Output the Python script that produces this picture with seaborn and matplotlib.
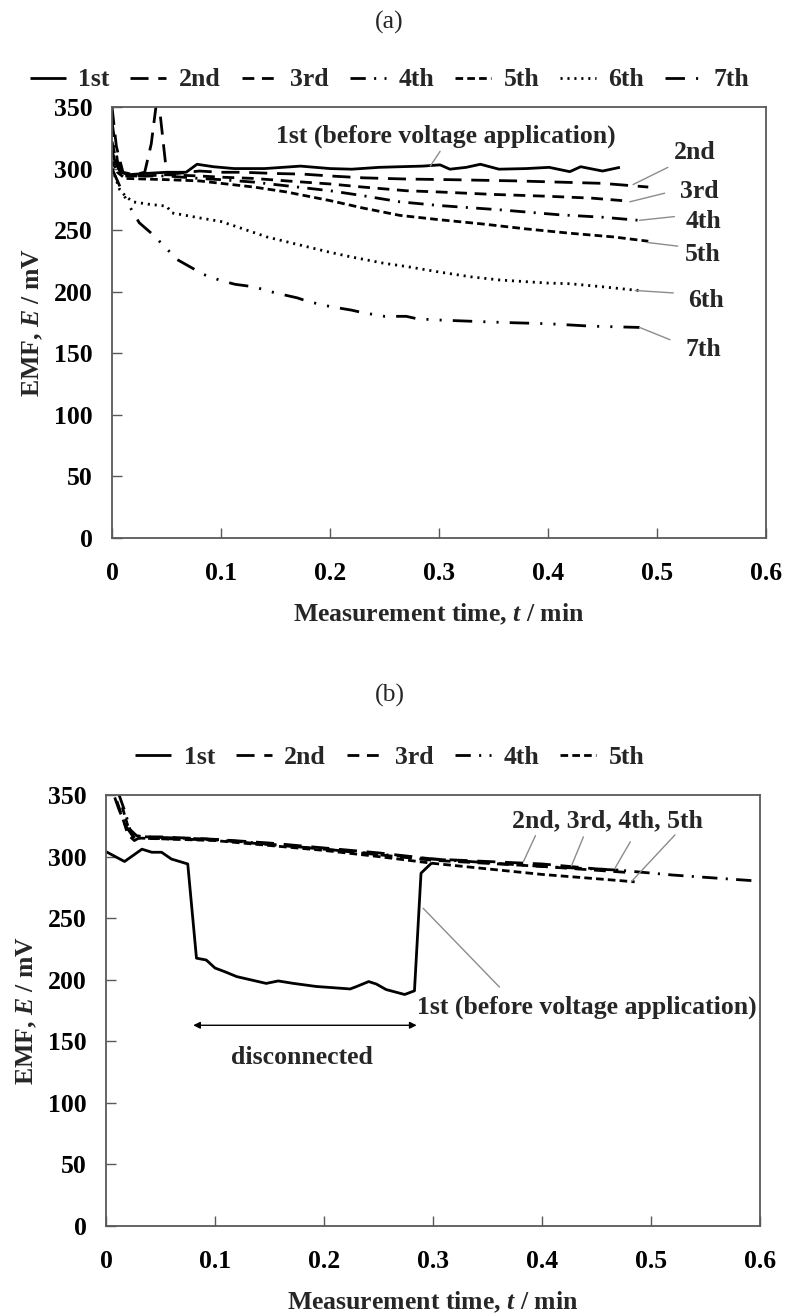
import matplotlib
matplotlib.use("Agg")
import matplotlib.pyplot as plt
import seaborn as sns

# ---------------- data: panel (a) ----------------
a_names = ["1st", "2nd", "3rd", "4th", "5th", "6th", "7th"]

a_t_1st = [0, 0.003, 0.008, 0.015, 0.03, 0.05, 0.068, 0.078, 0.093, 0.112, 0.14, 0.173, 0.2, 0.22,
           0.245, 0.264, 0.285, 0.301, 0.31, 0.325, 0.338, 0.355, 0.38, 0.401, 0.42, 0.43, 0.45, 0.466]
a_E_1st = [315, 305, 297, 295, 296, 297, 297, 303.5, 301.5, 300, 300, 302, 300, 299.5,
           301, 301.5, 302, 303, 299.5, 301, 303.5, 299.5, 300, 301, 297.5, 301.5, 298, 301]

a_t_2nd = [0, 0.004, 0.01, 0.02, 0.03, 0.036, 0.042, 0.05, 0.06, 0.08, 0.1, 0.12, 0.15, 0.175,
           0.2, 0.23, 0.27, 0.31, 0.37, 0.41, 0.45, 0.478, 0.492]
a_E_2nd = [350, 318, 297, 295, 297, 320, 362, 297, 296, 298, 297, 297, 296, 295.5,
           294, 292.5, 291.5, 291, 290, 289, 288, 286, 285]

a_t_3rd = [0, 0.005, 0.01, 0.03, 0.05, 0.08, 0.1, 0.13, 0.16, 0.2, 0.23, 0.27, 0.3, 0.35, 0.4, 0.44, 0.468]
a_E_3rd = [322, 302, 294, 294, 295, 294, 293, 292, 290, 287.5, 285, 282, 281, 279, 277.5, 276, 274]

a_t_4th = [0, 0.005, 0.012, 0.03, 0.05, 0.08, 0.1, 0.13, 0.16, 0.2, 0.23, 0.264, 0.3, 0.356, 0.41, 0.45, 0.483]
a_E_4th = [338, 306, 295, 294, 294, 292, 291, 289, 286, 282, 278, 273, 270, 266.5, 262.5, 260.5, 258]

a_t_5th = [0, 0.005, 0.012, 0.03, 0.05, 0.08, 0.1, 0.13, 0.16, 0.2, 0.23, 0.264, 0.3, 0.34, 0.38, 0.42, 0.46, 0.492]
a_E_5th = [306, 297, 292, 291.5, 291, 290, 288, 285, 281, 274, 268, 262, 258.5, 255, 251, 247.5, 244.5, 241]

a_t_6th = [0, 0.003, 0.007, 0.012, 0.019, 0.034, 0.05, 0.055, 0.08, 0.1, 0.112, 0.142, 0.172, 0.2,
           0.218, 0.25, 0.27, 0.3, 0.33, 0.356, 0.4, 0.42, 0.45, 0.483]
a_E_6th = [300, 293, 283, 278, 273, 271, 269.5, 264, 260, 257, 253.5, 244.5, 238, 232,
           228.5, 223, 220.5, 216, 212, 209.5, 207, 206.5, 204, 201]

a_t_7th = [0, 0.005, 0.01, 0.017, 0.025, 0.038, 0.05, 0.06, 0.072, 0.084, 0.1, 0.113, 0.13, 0.15,
           0.17, 0.18, 0.2, 0.22, 0.23, 0.25, 0.27, 0.28, 0.3, 0.33, 0.36, 0.4, 0.44, 0.484]
a_E_7th = [300, 290, 280, 268, 256, 246, 235, 226, 220, 214, 209, 206, 204, 199,
           195, 192, 188, 185, 183, 180, 180, 178, 177, 176, 175, 174, 172, 171]

# ---------------- data: panel (b) ----------------
b_names = ["1st", "2nd", "3rd", "4th", "5th"]

b_t_1st = [0, 0.017, 0.033, 0.042, 0.051, 0.06, 0.075, 0.083, 0.092, 0.1, 0.109, 0.12, 0.147, 0.158,
           0.172, 0.193, 0.224, 0.23, 0.241, 0.248, 0.257, 0.274, 0.283, 0.289, 0.299]
b_E_1st = [304, 296, 306, 303.5, 303.5, 298, 294, 217.5, 216, 209.5, 206.5, 202.5, 197, 199,
           197, 194.5, 192.5, 194.5, 198.5, 196.5, 192, 188, 191, 286.5, 295]

b_t_2nd = [0.008, 0.012, 0.018, 0.025, 0.03, 0.05, 0.1, 0.15, 0.2, 0.25, 0.3, 0.35, 0.4, 0.45, 0.47]
b_E_2nd = [348, 338, 325, 316, 316, 316, 314, 311, 307, 303, 298, 296, 294, 290, 289]

b_t_3rd = [0.01, 0.015, 0.02, 0.026, 0.03, 0.1, 0.2, 0.3, 0.4, 0.48]
b_E_3rd = [345, 332, 318, 313, 315, 313.5, 306, 297, 292, 287]

b_t_4th = [0.012, 0.018, 0.022, 0.028, 0.035, 0.1, 0.2, 0.3, 0.4, 0.47, 0.52, 0.56, 0.6]
b_E_4th = [350, 335, 322, 317, 316, 314, 306, 298, 292, 289, 285, 282.5, 280]

b_t_5th = [0.015, 0.02, 0.025, 0.03, 0.1, 0.2, 0.25, 0.3, 0.35, 0.4, 0.45, 0.485]
b_E_5th = [340, 325, 317, 315, 313, 305, 300, 294.5, 290, 285.5, 282, 279.5]

x_ticks = [0, 0.1, 0.2, 0.3, 0.4, 0.5, 0.6]
x_ticklabels = ["0", "0.1", "0.2", "0.3", "0.4", "0.5", "0.6"]
y_ticks = [0, 50, 100, 150, 200, 250, 300, 350]
y_ticklabels = ["0", "50", "100", "150", "200", "250", "300", "350"]

# ---------------- style ----------------
sns.set_theme(style="white")
plt.rcParams["font.family"] = ["Liberation Serif", "DejaVu Serif"]
plt.rcParams["font.weight"] = "bold"
plt.rcParams["axes.labelweight"] = "bold"
plt.rcParams["mathtext.fontset"] = "custom"
plt.rcParams["mathtext.rm"] = "Liberation Serif:bold"
plt.rcParams["mathtext.it"] = "Liberation Serif:italic:bold"
plt.rcParams["mathtext.bf"] = "Liberation Serif:bold"
plt.rcParams["lines.scale_dashes"] = False

FS = 18.5
SPINE = "#595959"
LEADER = "#8c8c8c"
styles = {
    "1st": "-",
    "2nd": (0, (13, 7)),
    "3rd": (0, (8.5, 5.5)),
    "4th": (0, (11, 6, 1.5, 6)),
    "5th": (0, (5.5, 3)),
    "6th": (0, (1.5, 3.5)),
    "7th": (0, (14, 8, 1.5, 8, 1.5, 8)),
}

W, H = 787, 1313
fig = plt.figure(figsize=(W / 100, H / 100), dpi=100)
axA = fig.add_axes([112 / W, 1 - 538 / H, 654 / W, 431 / H])
axB = fig.add_axes([106 / W, 1 - 1226 / H, 654 / W, 431 / H])


def draw(ax, names, ts, Es):
    handles = []
    for n, t, e in zip(names, ts, Es):
        sns.lineplot(x=t, y=e, ax=ax, color="black", linewidth=2.0, sort=False,
                     estimator=None, legend=False)
        ln = ax.lines[-1]
        ln.set_linestyle(styles[n])
        ln.set_label(n)
        ln.set_solid_capstyle("butt")
        ln.set_dash_capstyle("butt")
        handles.append(ln)
    return handles


def style_axes(ax):
    ax.set_xlim(0, 0.6)
    ax.set_ylim(0, 350)
    ax.set_xticks(x_ticks)
    ax.set_xticklabels(x_ticklabels)
    ax.set_yticks(y_ticks)
    ax.set_yticklabels(y_ticklabels)
    ax.tick_params(axis="both", direction="in", length=7, width=1.0, color=SPINE,
                   labelsize=FS, labelcolor="black", bottom=True, left=True)
    ax.tick_params(axis="x", pad=17)
    ax.tick_params(axis="y", pad=14)
    for lab in ax.get_xticklabels() + ax.get_yticklabels():
        lab.set_fontweight("bold")
    for sp in ax.spines.values():
        sp.set_visible(True)
        sp.set_color(SPINE)
        sp.set_linewidth(1.3)
    ax.set_xlabel(r"Measurement time, $t$ / min", fontsize=FS, fontweight="bold", labelpad=12)
    ax.set_ylabel(r"EMF, $E$ / mV", fontsize=FS, fontweight="bold", labelpad=6)
    ax.grid(False)


hA = draw(axA, a_names,
          [a_t_1st, a_t_2nd, a_t_3rd, a_t_4th, a_t_5th, a_t_6th, a_t_7th],
          [a_E_1st, a_E_2nd, a_E_3rd, a_E_4th, a_E_5th, a_E_6th, a_E_7th])
hB = draw(axB, b_names,
          [b_t_1st, b_t_2nd, b_t_3rd, b_t_4th, b_t_5th],
          [b_E_1st, b_E_2nd, b_E_3rd, b_E_4th, b_E_5th])
style_axes(axA)
style_axes(axB)


def leader(ax, p_from, p_to):
    ax.annotate("", xy=p_to, xytext=p_from,
                arrowprops=dict(arrowstyle="-", color=LEADER, lw=1.0, shrinkA=0, shrinkB=0))


# ---- annotations panel (a)
axA.text(0.306, 326, "1st (before voltage application)", fontsize=FS, fontweight="bold",
         ha="center", va="center")
leader(axA, (0.301, 314), (0.292, 302))
a_labels = [("2nd", (0.535, 313), (0.510, 301), (0.478, 287)),
            ("3rd", (0.539, 281), (0.507, 280), (0.475, 273)),
            ("4th", (0.543, 257), (0.516, 261), (0.484, 258)),
            ("5th", (0.542, 230), (0.519, 237), (0.491, 240)),
            ("6th", (0.545, 193), (0.515, 199), (0.480, 201)),
            ("7th", (0.543, 153), (0.512, 161), (0.484, 171))]
for txt, tp, lf, lt in a_labels:
    axA.text(tp[0], tp[1], txt, fontsize=FS, fontweight="bold", ha="center", va="center",
             clip_on=False)
    leader(axA, lf, lt)

# ---- annotations panel (b)
axB.text(0.46, 329, "2nd, 3rd, 4th, 5th", fontsize=FS, fontweight="bold", ha="center", va="center")
for lf, lt in [((0.394, 317), (0.383, 296)), ((0.438, 316), (0.427, 292.4)),
               ((0.481, 312), (0.467, 290.6)), ((0.522, 317.6), (0.482, 279.7))]:
    leader(axB, lf, lt)
axB.text(0.285, 178, "1st (before voltage application)", fontsize=FS, fontweight="bold",
         ha="left", va="center", clip_on=False)
leader(axB, (0.361, 194), (0.291, 258))
axB.annotate("", xy=(0.08, 163), xytext=(0.285, 163),
             arrowprops=dict(arrowstyle="<|-|>", color="black", lw=1.0,
                             mutation_scale=10, shrinkA=0, shrinkB=0))
axB.text(0.18, 137, "disconnected", fontsize=FS, fontweight="bold", ha="center", va="center")

# ---- titles and legends
fig.text(0.495, 1 - 22 / H, "(a)", fontsize=FS, fontweight="normal", ha="center", va="center")
fig.text(0.495, 1 - 695 / H, "(b)", fontsize=FS, fontweight="normal", ha="center", va="center")

leg_kw = dict(loc="center", frameon=False, prop={"size": FS, "weight": "bold"},
              handlelength=1.4, handletextpad=0.5, columnspacing=0.8, borderaxespad=0,
              borderpad=0)
fig.legend(handles=hA, labels=a_names, ncol=7, bbox_to_anchor=(0.495, 1 - 80 / H), **leg_kw)
fig.legend(handles=hB, labels=b_names, ncol=5, bbox_to_anchor=(0.495, 1 - 757 / H), **leg_kw)

fig.savefig("out.png", dpi=100)
